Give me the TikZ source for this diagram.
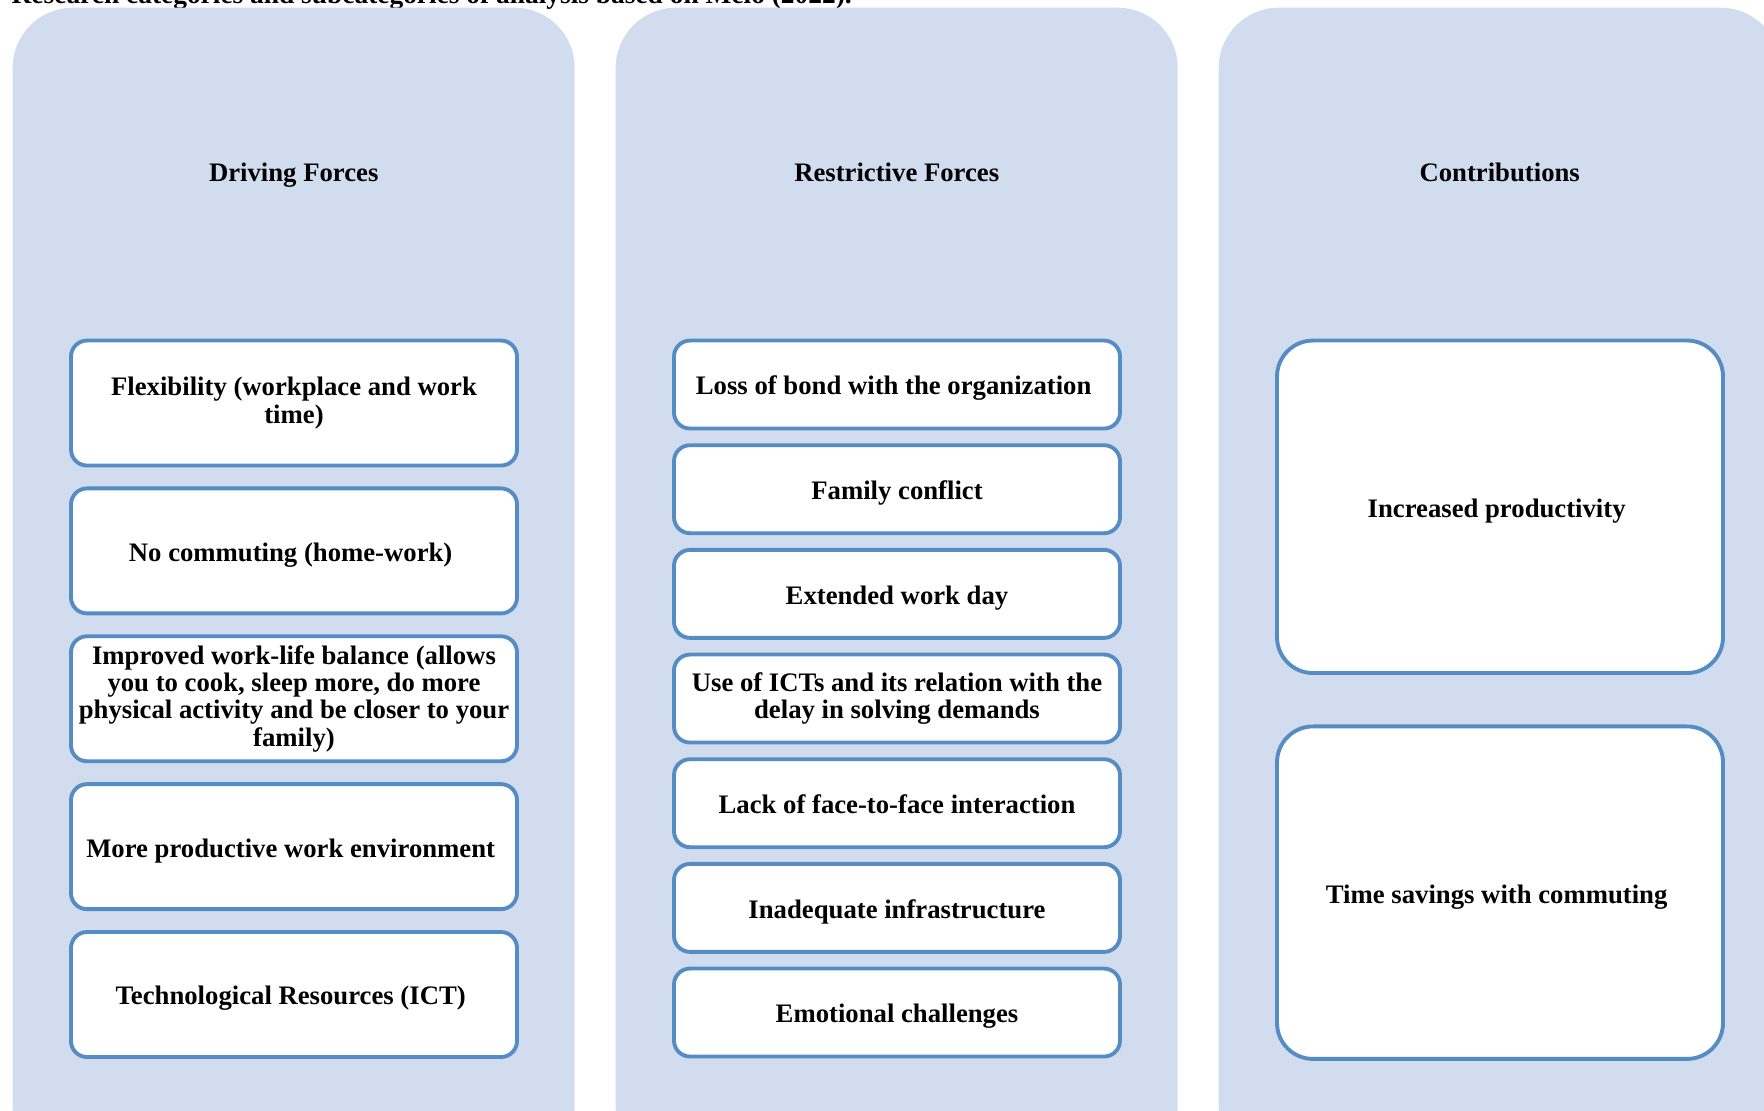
\documentclass[tikz,border=0pt]{standalone}
\usepackage{fontspec}
\setmainfont{Liberation Serif}
\usetikzlibrary{positioning}
\usepackage{xcolor}
\definecolor{PanelBlue}{HTML}{D1DDEE}
\definecolor{EdgeBlue}{HTML}{558CC4}

\begin{document}
\begin{tikzpicture}[
				node distance=0.19cm,
				panel/.style={
					fill=PanelBlue,
					rounded corners=0.6cm,
					minimum width=5.62cm,
					minimum height=11.6cm,
					anchor=north west,
					inner sep=0pt
				},
				head/.style={
					font=\fontsize{7.6}{7.8}\selectfont\bfseries,
					execute at begin node={\rule{0pt}{7.6pt}},
					execute at end node={\rule[-1.7pt]{0pt}{1.7pt}}
				},
				forcebox/.style={
					head,
					draw=EdgeBlue,
					line width=1.1pt,
					rounded corners=0.16cm,
					fill=white,
					minimum width=4.46cm,
					minimum height=1.25cm,
					align=center,
					inner xsep=2pt,
					inner ysep=0.5pt
				},
				restbox/.style={
					forcebox,
					minimum height=0.88cm
				},
				gainbox/.style={
					forcebox,
					rounded corners=0.36cm,
					minimum height=3.325cm
				}
				]
				
				\useasboundingbox (0,0) rectangle (17.64,-11.10);
				\clip (0,0) rectangle (17.64,-11.10);
				
				% caption, cut by the page top
				\node[font=\fontsize{7.8}{8}\selectfont\bfseries, anchor=base west, inner sep=0pt] (caption) at (0.11,-0.03)
				{Research categories and subcategories of analysis based on Melo (2022).};
				
				% three columns
				\node[panel] (pDrive) at (0.12,-0.07) {};
				\node[panel] (pRestrict) at (6.15,-0.07) {};
				\node[panel] (pGain) at (12.18,-0.07) {};
				
				\node[head] (hDrive) at ([yshift=-1.64cm]pDrive.north) {Driving Forces};
				\node[head] (hRestrict) at ([yshift=-1.64cm]pRestrict.north) {Restrictive Forces};
				\node[head] (hGain) at ([yshift=-1.64cm]pGain.north) {Contributions};
				
				% driving forces
				\node[forcebox, anchor=north] (d1) at (2.94,-3.386) {
					Flexibility (workplace and work\\time)
				};
				\node[forcebox, below=of d1] (d2) {
					No commuting (home-work)
				};
				\node[forcebox, below=of d2] (d3) {
					Improved work-life balance (allows\\
					you to cook, sleep more, do more\\
					physical activity and be closer to your\\
					family)
				};
				\node[forcebox, below=of d3] (d4) {
					More productive work environment
				};
				\node[forcebox, below=of d4] (d5) {
					Technological Resources (ICT)
				};
				
				% restrictive forces
				\node[restbox, anchor=north] (r1) at (8.97,-3.386) {
					Loss of bond with the organization
				};
				\node[restbox, below=0.128cm of r1] (r2) {Family conflict};
				\node[restbox, below=0.128cm of r2] (r3) {Extended work day};
				\node[restbox, below=0.128cm of r3] (r4) {
					Use of ICTs and its relation with the\\
					delay in solving demands
				};
				\node[restbox, below=0.128cm of r4] (r5) {Lack of face-to-face interaction};
				\node[restbox, below=0.128cm of r5] (r6) {Inadequate infrastructure};
				\node[restbox, below=0.128cm of r6] (r7) {Emotional challenges};
				
				% contributions
				\node[gainbox, anchor=north] (g1) at (15.00,-3.386) {
					Increased productivity
				};
				\node[gainbox, below=0.495cm of g1] (g2) {
					Time savings with commuting
				};
				
			\end{tikzpicture}
\end{document}
